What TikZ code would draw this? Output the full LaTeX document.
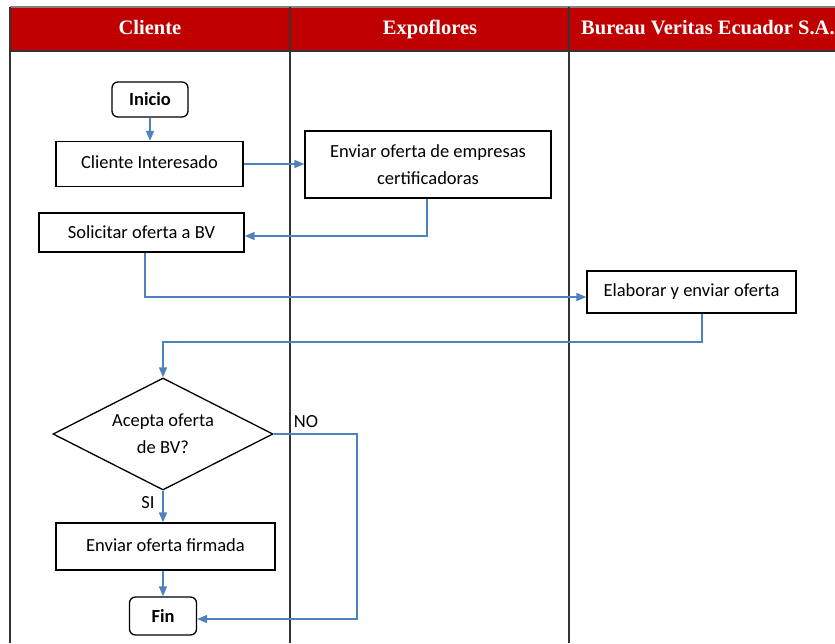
\documentclass[tikz,border=0pt]{standalone}
\usepackage{fontspec}
\setmainfont{Carlito}
\newfontfamily\headfont{Liberation Serif}
\usetikzlibrary{arrows.meta,shapes.geometric,calc}
\definecolor{hdrred}{HTML}{C00000}
\definecolor{flowblue}{HTML}{4F81BD}
\definecolor{laneline}{HTML}{333333}
\tikzset{
  lane/.style={draw=laneline,line width=1.2pt},
  hdrtext/.style={text=white,font=\headfont\bfseries\fontsize{20.5}{24}\selectfont,inner sep=0pt,anchor=base},
  procbox/.style={draw=black,line width=1.3pt,inner sep=0pt,align=center,font=\fontsize{18.5}{27}\selectfont},
  termbox/.style={draw=black,line width=1.3pt,rounded corners=6pt,inner sep=0pt,font=\bfseries\fontsize{18.5}{22}\selectfont},
  decbox/.style={draw=black,line width=1.3pt,diamond,inner sep=0pt,align=center,font=\fontsize{18.5}{27}\selectfont},
  arr/.style={draw=flowblue,line width=1.6pt,-{Triangle[length=10pt,width=8pt]}},
  lbl/.style={inner sep=0pt,font=\fontsize{18.5}{22}\selectfont}
}
\begin{document}
\begin{tikzpicture}[x=1pt,y=-1pt]
\useasboundingbox (0,0) rectangle (835,643);
\fill[white] (0,0) rectangle (835,643);
% header
\fill[hdrred] (10,7) rectangle (840,51);
\draw[draw=gray,line width=1.2pt] (10,7) -- (840,7);
\draw[lane] (10,51) -- (840,51);
\draw[lane] (10,7) -- (10,643);
\draw[lane] (290,7) -- (290,643);
\draw[lane] (569,7) -- (569,643);
\node[hdrtext] (h1) at (150,34.5) {Cliente};
\node[hdrtext] (h2) at (430,34.5) {Expoflores};
\node[hdrtext,anchor=base west] (h3) at (581,34.5) {Bureau Veritas Ecuador S.A.};
% nodes
\node[termbox,minimum width=76pt,minimum height=35pt] (inicio) at (150,99.5) {Inicio};
\node[procbox,minimum width=187pt,minimum height=45pt] (cli) at (149.5,164) {\raisebox{3pt}{Cliente Interesado}};
\node[procbox,minimum width=246pt,minimum height=67pt] (env) at (428,164.5) {Enviar oferta de empresas\\certificadoras};
\node[procbox,minimum width=205pt,minimum height=39pt] (sol) at (141.5,232.5) {Solicitar oferta a BV};
\node[procbox,minimum width=209pt,minimum height=42pt] (ela) at (691.5,292) {Elaborar y enviar oferta};
\node[decbox,minimum width=220pt,minimum height=112pt,aspect=1.96] (dec) at (163,434) {Acepta oferta\\de BV?};
\node[procbox,minimum width=219pt,minimum height=47pt] (firm) at (165.5,546.5) {\raisebox{3pt}{Enviar oferta firmada}};
\node[termbox,minimum width=67pt,minimum height=38pt] (fin) at (163,616) {Fin};
\node[lbl] (si) at (148,503) {SI};
\node[lbl] (no) at (306,422) {NO};
% connectors
\coordinate (k1) at (702,342);
\coordinate (k2) at (357,434);
\draw[arr] (inicio.south) -- (inicio.south |- cli.north);
\draw[arr] (cli.east) -- (cli.east -| env.west);
\draw[arr] (env.south -| 427,0) |- ($(sol.east)+(0,3.5)$);
\draw[arr] (sol.south -| 145,0) |- ($(ela.west)+(0,5)$);
\draw[arr] (ela.south -| k1) -- (k1) -| (dec.north);
\draw[arr] (dec.east) -- (k2) |- ($(fin.east)+(0,3)$);
\draw[arr] (dec.south) -- (dec.south |- firm.north);
\draw[arr] (firm.south -| fin.north) -- (fin.north);
\end{tikzpicture}
\end{document}
